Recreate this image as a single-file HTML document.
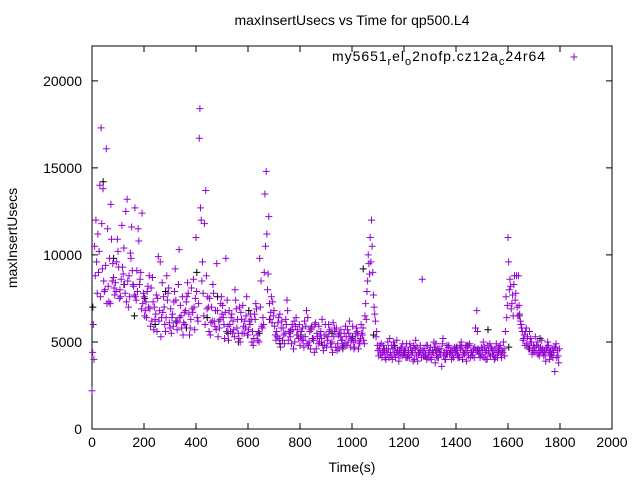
<!DOCTYPE html>
<html><head><meta charset="utf-8"><style>
body{margin:0;background:#fff}
svg{font-family:"Liberation Sans",sans-serif;display:block}
</style></head><body>
<svg id="chart" width="640" height="480" viewBox="0 0 640 480">
<rect width="640" height="480" fill="#fff"/>
<text x="352" y="25" font-size="14" text-anchor="middle">maxInsertUsecs vs Time for qp500.L4</text>
<text x="17" y="238" font-size="14" text-anchor="middle" transform="rotate(-90 17 238)">maxInsertUsecs</text>
<text x="352" y="472" font-size="14" text-anchor="middle">Time(s)</text>
<text x="332" y="61" font-size="14" textLength="213">my5651<tspan font-size="11" dy="4">r</tspan><tspan dy="-4">el</tspan><tspan font-size="11" dy="4">o</tspan><tspan dy="-4">2nofp.cz12a</tspan><tspan font-size="11" dy="4">c</tspan><tspan dy="-4">24r64</tspan></text>
<g id="axes"></g>
<g id="marks"></g>
</svg>
<script>
const xTicks=[0,200,400,600,800,1000,1200,1400,1600,1800,2000];
const yTicks=[0,5000,10000,15000,20000];
const purpleA=[2200,10500,7800,14000,9200,8000,11500,7200,9500,8400,10200,7600,8900,12500,7000,9800,8200,7400,10800,6900,
7600,6400,8800,6200,7000,5600,6800,8400,6000,7400,5800,6600,9200,6200,7100,5400,6800,7800,6300,8600,
11000,7200,12000,6500,8800,5600,7000,6200,9500,5800,6600,5200,7400,6000,5500,8000,6300,5000,7100,5800,
5400,6600,4800,7200,5600,8500,6000,14800,12200,7600,6800,5600,5200,6200,4900,7400,5500,6000,5000,5700,
4800,5800,5300,6400,4600,5200,6100,4900,5600,4500,5400,6000,4700,5300,5800,4600,5100,5500,4800,6200,
5200,4700,5600,4900,5400,6500,8500,11000,9000,6200,4500,4300,4800,4000,4600,4200,5000,4400,3900,4700,
4300,4900,4100,4500,4000,4700,4400,8600,4200,4800,4100,4500,3800,4600,4300,5200,4000,4700,4400,4100,
4600,4200,5000,4300,3900,4800,4400,4100,6800,4500,4200,4700,4000,4900,4300,4600,4100,4800,4400,5600,
11000,8200,6500,7800,8800,6000,5200,5800,4600,5000,4400,4800,4200,5100,4500,4700,4000,4600,3300,4500];
const purpleB=[6000,12000,9000,17300,8500,16100,7300,10900,8100,9600,7500,11700,8300,13200,7600,9100,12700,7900,8600,7200,
6800,8200,5900,7300,6600,9900,5300,7600,6400,8100,5500,7300,6100,10300,5800,6700,7600,5400,6900,5700,
6400,18400,9600,6000,7600,5400,8300,6800,5300,7200,6400,9800,5100,6400,5700,6900,5200,6300,5500,7600,
6200,5000,6600,5400,9800,5800,13500,8000,6300,7300,5400,6100,4700,5800,6300,5100,5700,4600,6400,5200,
5600,4700,6800,5000,5900,4400,5500,5000,6300,4800,5100,5700,4400,5600,4900,5300,4600,5900,5000,4700,
5000,5500,4600,6000,5100,6300,9500,12000,7000,5600,4600,4100,4500,4300,5200,4000,4700,4500,4200,4900,
4600,4200,4700,3900,5100,4300,4500,4200,4800,4400,4000,5000,4200,4600,3600,4400,4800,4300,4500,4700,
4300,4800,4000,4500,4700,4100,4400,5800,4600,4300,5000,4000,4500,4700,4200,4900,4400,4100,4600,6400,
8000,7200,8800,7000,6600,5600,4800,5300,5000,4500,5300,4300,4700,4400,3900,4800,4200,4400,4900,3800];
const purpleC=[4400,8800,11200,7600,13800,9400,8200,12900,8700,7900,9300,8600,10400,7300,8800,11600,7700,9100,8300,12400,
6500,7900,6900,8700,6300,7500,9600,6700,5600,7800,6900,5900,7400,8300,6500,6100,7300,6600,8100,7000,
7900,16700,8500,11800,6900,7500,6200,5900,6800,6300,7100,6700,5900,5600,6200,7400,5500,6700,5900,6500,
5700,6300,5200,6900,5000,5900,9000,11200,7200,6100,5900,5300,6600,5100,5500,6800,5300,5700,5900,5400,
5300,5100,5900,4800,5700,5100,4600,5900,5200,5400,4700,5600,5000,5800,4500,5500,5100,4900,5700,5300,
5900,5100,5400,5200,5800,7200,10000,9600,7700,5300,4200,4900,4400,4600,4100,4800,4300,5100,4500,4200,
4500,4100,4900,4400,4600,3900,4800,4500,4300,4100,4700,4400,4900,4100,4600,4200,4500,4800,4000,4600,
4500,4100,4700,4300,4500,4900,4200,4700,5600,4100,4600,4400,4800,4200,4500,4100,4700,4300,5000,7600,
9600,6900,8300,8800,7100,5800,5400,4900,5600,4300,4700,5000,4400,4600,4300,5000,4500,4100,4700,4200];
const purpleD=[4000,9600,10200,11800,7900,7200,9800,8500,7700,10900,8000,9300,7800,8500,10100,8300,7600,11500,9000,7800,
7300,7000,8100,5700,7700,6200,6400,7000,8800,6100,6400,7900,5700,6400,7600,6000,8400,5800,6700,7500,
6200,12700,7800,13700,7000,6100,7800,5700,6200,7600,6000,5600,6800,6600,5300,5800,7000,5500,6200,5400,
6000,5600,6300,5100,7000,6400,10500,8900,6700,6500,5100,6400,5800,5400,6000,5600,4900,6200,5400,6000,
5100,6200,4900,5600,5200,6000,5300,5400,4800,6000,5300,4900,6100,4700,5400,5700,4800,5300,5500,5100,
4600,5800,5000,5500,4900,7900,8900,10500,6600,4800,4800,4400,4100,5000,4400,4600,4100,4300,4600,4400,
4100,4500,4300,4800,4200,4400,4100,4600,4000,4500,4300,4700,4100,4400,4900,4000,4300,4500,4200,4400,
4100,4600,4400,4800,4200,4400,4600,4500,4300,4700,4100,4500,4300,4600,4000,4400,4600,4500,4200,7100,
8600,7700,7400,6500,6200,5100,5600,4700,5200,4800,4500,4700,4500,4200,4600,4400,4300,4700,4100,4600];
const blackVals=[7000,14200,9800,8300,6500,7500,6000,7900,6200,5800,9000,6400,7600,5500,5000,6800,5500,6300,4900,5600,5400,5800,5000,5500,4700,5300,9200,5400,4600,4800,4400,4600,4200,4500,4300,4700,4800,4500,5700,4400,4700,6500,4600,5200,4400];

const L=92,R=612,T=46,B=429,XMAX=2000,YMAX=22000;
const sx=v=>L+(R-L)*v/XMAX;
const sy=v=>B-(B-T)*v/YMAX;
const NS="http://www.w3.org/2000/svg";
const axes=document.getElementById('axes'),marks=document.getElementById('marks');
function mk(tag,attrs,parent){const e=document.createElementNS(NS,tag);for(const k in attrs)e.setAttribute(k,attrs[k]);parent.appendChild(e);return e;}
const frame=mk('rect',{x:L,y:T,width:R-L,height:B-T,fill:'none',stroke:'#000','stroke-width':1},axes);


xTicks.forEach(t=>{const x=sx(t);
 const p=mk('path',{d:`M${x} ${B}v-6M${x} ${T}v6`,stroke:'#000'},axes);
 
 
 const tx=mk('text',{x:x,y:B+18,'font-size':14,'text-anchor':'middle'},axes);tx.textContent=t;
 
 });
yTicks.forEach(t=>{const y=sy(t);
 const p=mk('path',{d:`M${L} ${y}h6M${R} ${y}h-6`,stroke:'#000'},axes);
 
 
 const tx=mk('text',{x:L-10,y:y+5,'font-size':14,'text-anchor':'end'},axes);tx.textContent=t;
 
 });
function plus(x,y,c,name){const p=mk('path',{d:`M${x-3.5} ${y}h7M${x} ${y-3.5}v7`,stroke:c,'stroke-width':1},marks);
 
 }
blackVals.forEach((v,i)=>plus(sx(i*40+3),sy(v),'#000','black-point'));
purpleA.forEach((v,i)=>plus(sx(i*10),sy(v),'#9400d3','purple-point'));
purpleB.forEach((v,i)=>plus(sx(i*10+5),sy(v),'#9400d3','purple-point'));
purpleC.forEach((v,i)=>plus(sx(i*10+2.5),sy(v),'#9400d3','purple-point'));
purpleD.forEach((v,i)=>plus(sx(i*10+7.5),sy(v),'#9400d3','purple-point'));
plus(574,57,'#9400d3','legend-marker');
</script>
</body></html>
